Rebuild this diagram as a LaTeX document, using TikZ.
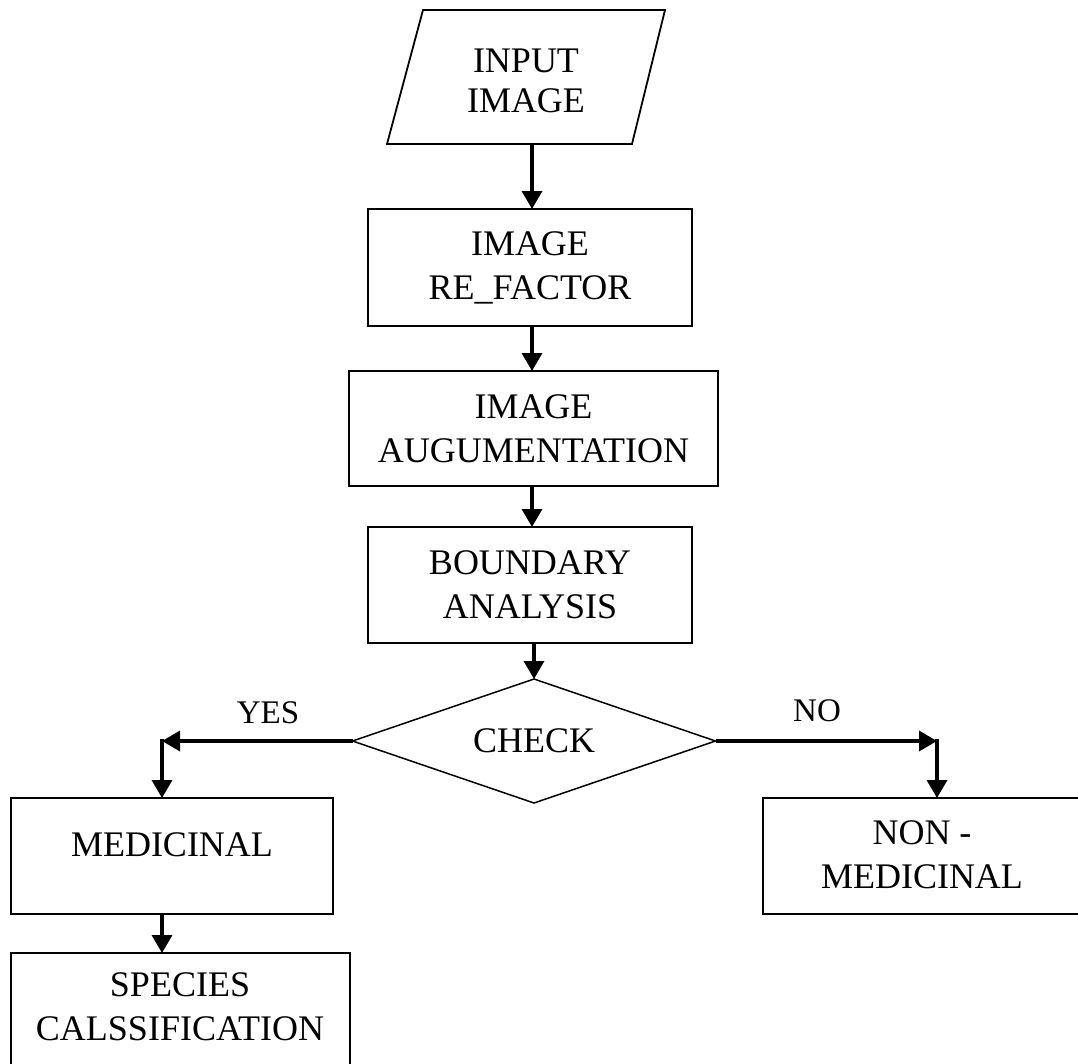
\documentclass[tikz,border=0pt]{standalone}
\usepackage{fontspec}
\setmainfont{Liberation Serif}
\usetikzlibrary{shapes.geometric,arrows.meta}
\begin{document}
\begin{tikzpicture}[x=1pt,y=-1pt,
  every node/.style={font=\fontsize{36}{44}\selectfont, align=center,
                     inner sep=0pt, outer sep=0pt},
  procbox/.style={draw, line width=1.8pt, rectangle},
  decision/.style={draw, diamond, aspect=2.9, line width=1.5pt},
  flow/.style={line width=3.5pt, -{Triangle[length=18pt,width=20pt]}},
  tag/.style={font=\fontsize{33}{40}\selectfont}
]
\useasboundingbox (0,0) rectangle (1078,1063);
\clip (0,0) rectangle (1078,1063);
\fill[white] (0,0) rectangle (1078,1063);

% input (parallelogram)
\draw[line width=1.8pt] (423,10) -- (665,10) -- (632,144) -- (387,144) -- cycle;
\node (in) at (526,81) {INPUT\\[-4pt]IMAGE};
\coordinate (inb) at (532,144);

% processing chain
\node[procbox, minimum width=324, minimum height=117] (rf)  at (530,267.5) {IMAGE\\RE\_FACTOR};
\node[procbox, minimum width=369, minimum height=115] (aug) at (533.5,428.5) {IMAGE\\AUGUMENTATION};
\node[procbox, minimum width=324, minimum height=116] (ba)  at (530,585) {BOUNDARY\\ANALYSIS};
\node[decision, minimum width=363, minimum height=124] (chk) at (534,741) {CHECK};

% outcomes
\node[procbox, minimum width=322, minimum height=116] (med) at (172,856) {};
\node (medtext) at (172,845) {MEDICINAL};
\node[procbox, minimum width=339, minimum height=240] (sp) at (180.5,1073) {};
\node (sptext) at (180,1006.5) {SPECIES\\CALSSIFICATION};
\node[procbox, minimum width=330, minimum height=116] (nm) at (928,856) {};
\node (nmtext) at (922,855) {NON -\\MEDICINAL};

% branch corners
\coordinate (yc) at (162,741);
\coordinate (nc) at (937,741);

% connectors
\draw[flow] (inb) -- (inb |- rf.north);
\draw[flow] (rf.south -| inb) -- (aug.north -| inb);
\draw[flow] (aug.south -| inb) -- (ba.north -| inb);
\draw[flow] (ba.south -| chk.north) -- (chk.north);

\draw[flow] (chk.west) -- (yc);
\draw[flow] ([yshift=1.75pt]yc) -- (yc |- med.north);
\draw[flow] (med.south -| yc) -- (yc |- sp.north);

\draw[flow] (chk.east) -- (nc);
\draw[flow] ([yshift=1.75pt]nc) -- (nc |- nm.north);

% branch labels
\node[tag] (yes) at (268,713) {YES};
\node[tag] (no)  at (817,711) {NO};
\end{tikzpicture}
\end{document}
